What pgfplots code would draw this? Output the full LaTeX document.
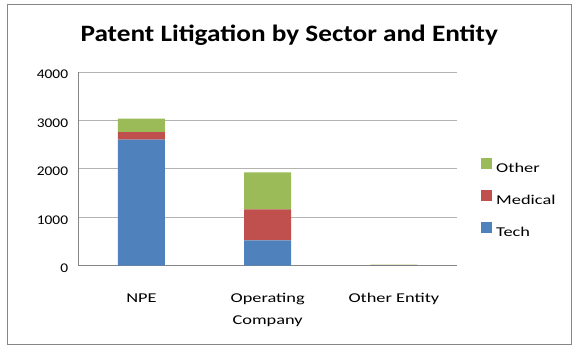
\documentclass[border=0pt]{standalone}
\usepackage{pgfplots}
\pgfplotsset{compat=1.18}
\usepackage{fontspec}
\setmainfont{Carlito}[FakeStretch=1.16]
\newfontfamily\lblfont{Carlito}[FakeStretch=1.36]
\definecolor{techc}{HTML}{4F81BD}
\definecolor{medc}{HTML}{C0504D}
\definecolor{othc}{HTML}{9BBB59}
\definecolor{gridc}{HTML}{B3B3B3}
\definecolor{axc}{HTML}{868686}
\pgfplotsset{every axis title shift=0pt}
\begin{document}
\begin{tikzpicture}
\useasboundingbox (0,0) rectangle (581bp,357bp);
\draw[axc, line width=1bp] (7.3bp,12.7bp) rectangle (571.7bp,352bp);
\begin{axis}[
  at={(78.3bp,91.3bp)}, anchor=south west,
  scale only axis, width=378.7bp, height=193.7bp,
  ybar stacked, bar width=47bp,
  xmin=-0.5, xmax=2.5, ymin=0, ymax=4000,
  xtick={0,1,2},
  xticklabels={NPE,{Operating\\Company},Other Entity},
  ytick={0,1000,2000,3000,4000},
  axis x line*=bottom, axis y line*=left,
  x axis line style={-, axc, line width=1bp},
  y axis line style={-, axc, line width=1bp},
  major tick length=0pt,
  ymajorgrids, grid style={gridc, line width=0.9bp},
  /pgf/number format/assume math mode=true,
  /pgf/number format/set thousands separator={},
  yticklabel style={font=\fontsize{13.3bp}{16bp}\selectfont, inner sep=0pt, xshift=-10bp, yshift=-2.5bp},
  xticklabel style={font=\lblfont\fontsize{13.5bp}{21.3bp}\selectfont, inner sep=0pt, anchor=north, yshift=-27.6bp, align=center},
  title={Patent Litigation by Sector and Entity},
  title style={font=\bfseries\fontsize{23.5bp}{28bp}\selectfont, at={(axis description cs:0.557,1.1565)}, anchor=base, inner sep=0pt},
  legend image code/.code={\draw[#1, draw=none] (0bp,-0.6bp) rectangle (11bp,10.4bp);},
  reverse legend,
  legend cell align=left,
  legend style={draw=none, fill=none, inner sep=0pt, at={(axis description cs:1.0634,0.556)}, anchor=north west,
    font=\lblfont\fontsize{13.5bp}{16bp}\selectfont, row sep=15.9bp, column sep=4bp, nodes={inner sep=0pt}},
]
\addplot[fill=techc, draw=none] coordinates {(0,2606) (1,524) (2,8)};
\addplot[fill=medc, draw=none] coordinates {(0,151) (1,639) (2,4)};
\addplot[fill=othc, draw=none] coordinates {(0,282) (1,763) (2,10)};
\legend{Tech,Medical,Other}
\end{axis}
\end{tikzpicture}
\end{document}
